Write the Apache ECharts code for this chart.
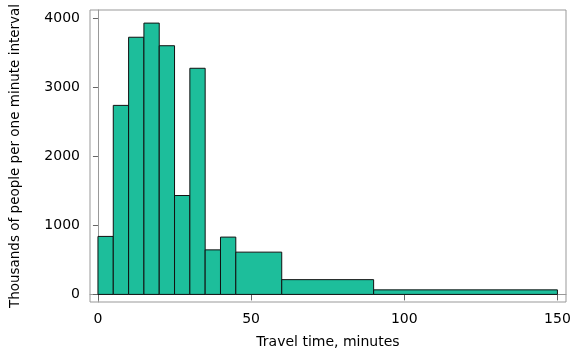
<!DOCTYPE html>
<html>
<head>
<meta charset="utf-8">
<script src="https://cdn.jsdelivr.net/npm/echarts@6/dist/echarts.min.js"></script>
<style>
  html, body { margin: 0; padding: 0; background: #fff; }
  #chart { width: 576px; height: 354px; }
</style>
</head>
<body>
<div id="chart"></div>
<script>
// bin edges in minutes and bar heights (thousands of people per minute)
var binStart = [0, 5, 10, 15, 20, 25, 30, 35, 40, 45, 60, 90];
var binEnd = [5, 10, 15, 20, 25, 30, 35, 40, 45, 60, 90, 150];
var heights = [841, 2741, 3729, 3934, 3606, 1434, 3279, 646, 831, 613, 214, 66];
var xTicks = [0, 50, 100, 150];
var yTicks = [0, 1000, 2000, 3000, 4000];

var bins = [];
for (var i = 0; i < heights.length; i++) {
    bins.push([binStart[i], binEnd[i], heights[i]]);
}

var font = '"DejaVu Sans", sans-serif';
var myChart = echarts.init(document.getElementById('chart'));

function renderBar(params, api) {
    var p0 = api.coord([api.value(0), 0]);
    var p1 = api.coord([api.value(1), api.value(2)]);
    return {
        type: 'rect',
        shape: { x: p0[0], y: p1[1], width: p1[0] - p0[0], height: p0[1] - p1[1] },
        style: { fill: '#1dbe9b', stroke: '#111', lineWidth: 1 }
    };
}

var option = {
    animation: false,
    grid: {
        left: 88, top: 10, right: 10, bottom: 47,
        show: true, borderColor: '#999', borderWidth: 1
    },
    xAxis: {
        type: 'value',
        min: -2.6,
        max: 152.8,
        name: 'Travel time, minutes',
        nameLocation: 'middle',
        nameGap: 33,
        nameTextStyle: { fontFamily: font, fontSize: 14, color: '#000' },
        splitLine: { show: false },
        axisLine: { show: true, lineStyle: { color: '#999' } },
        axisTick: { show: true, length: 6, lineStyle: { color: '#666' }, customValues: xTicks },
        axisLabel: { customValues: xTicks, margin: 10, fontFamily: font, fontSize: 14, color: '#000',
            formatter: function (v) { return String(v); } }
    },
    yAxis: {
        type: 'value',
        min: -110,
        max: 4124,
        name: 'Thousands of people per one minute interval',
        nameLocation: 'middle',
        nameGap: 68,
        nameTextStyle: { fontFamily: font, fontSize: 13.5, color: '#000' },
        splitLine: { show: false },
        axisLine: { show: true, lineStyle: { color: '#999' } },
        axisTick: { show: true, length: 5, lineStyle: { color: '#666' }, customValues: yTicks },
        axisLabel: { customValues: yTicks, margin: 10, fontFamily: font, fontSize: 14, color: '#000',
            formatter: function (v) { return String(v); } }
    },
    series: [{
        type: 'custom',
        renderItem: renderBar,
        encode: { x: [0, 1], y: 2 },
        data: bins
    }]
};
myChart.setOption(option);
</script>
</body>
</html>
